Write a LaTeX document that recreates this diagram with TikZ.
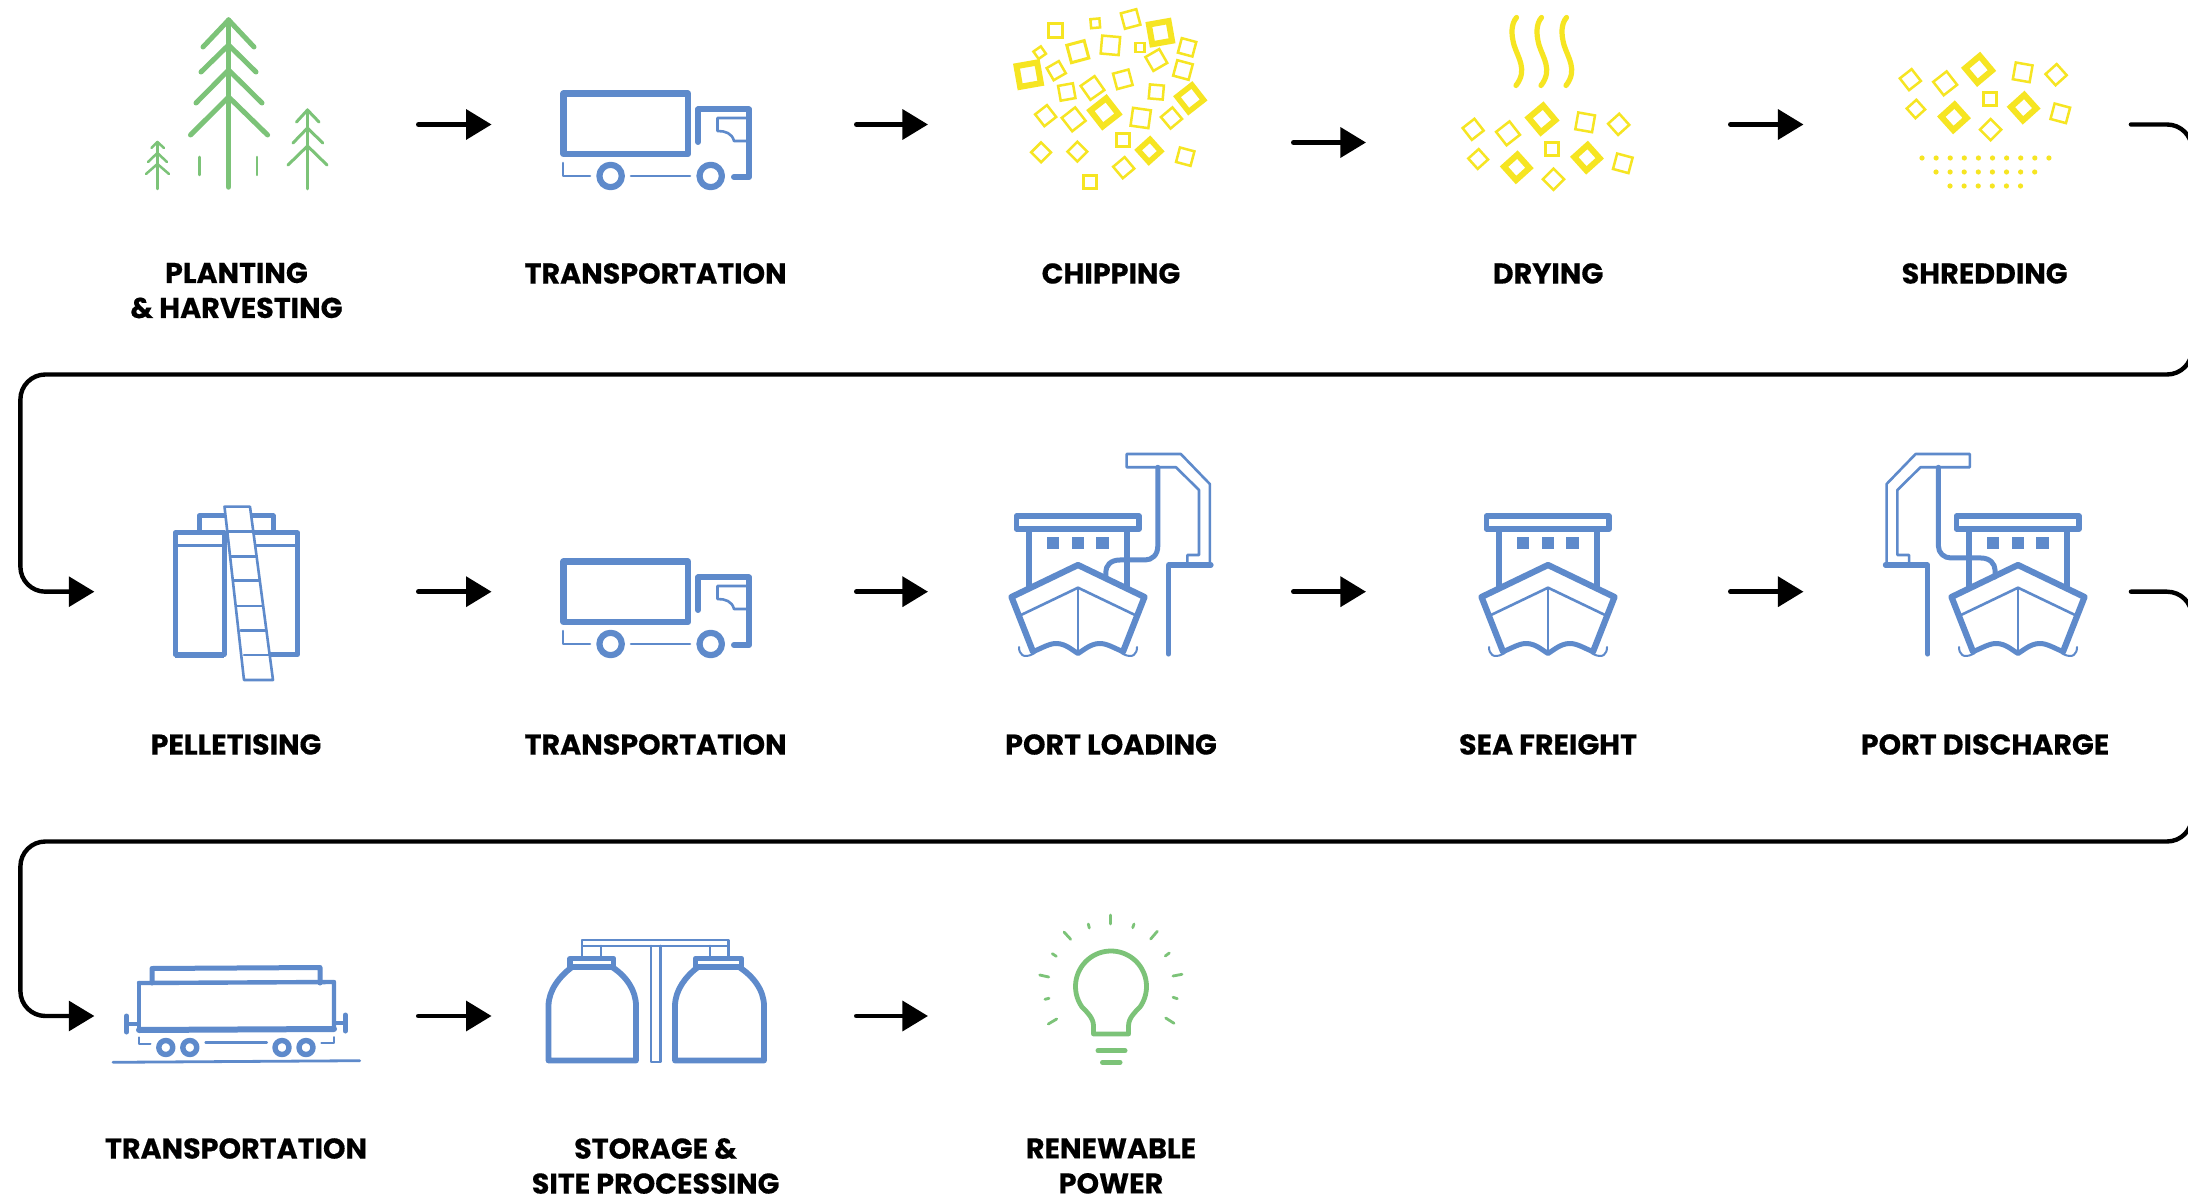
\documentclass[tikz,border=0pt]{standalone}
\usepackage{fontspec}
\setmainfont{Poppins}[BoldFeatures={FakeBold=0.35}]
\usetikzlibrary{arrows.meta,calc}
\definecolor{icblue}{HTML}{5E8ACB}
\definecolor{icgreen}{HTML}{7CC378}
\definecolor{icyellow}{HTML}{F6E522}
\tikzset{
  slot/.style={inner sep=0pt,outer sep=0pt,minimum height=1pt},
  flow/.style={line width=2.4pt,line cap=round,shorten <=1.2pt,-{Triangle[length=12.8pt,width=14.8pt]}},
  loopflow/.style={line width=2.2pt,line cap=round,shorten <=1.2pt,rounded corners=12.5pt,-{Triangle[length=12.8pt,width=14.8pt]}},
  lab/.style={inner sep=0pt,outer sep=0pt,align=center,font=\fontsize{14.3}{17.5}\selectfont\bfseries},
  bl/.style={draw=icblue,line width=#1,line join=round,line cap=round},
  bl/.default=2.25pt,
  gr/.style={draw=icgreen,line width=#1,line join=round,line cap=round},
  gr/.default=1.5pt,
  ye/.style={draw=icyellow,line width=#1},
  ye/.default=1.25pt
}
\newcommand{\chipat}[5]{%
  \pgfmathsetmacro\chx{\chox+#1/\chsx}\pgfmathsetmacro\chy{#2/3}%
  \draw[ye=#5*0.5pt,rotate around={#4:(\chx,\chy)}] (\chx-#3,\chy-#3) rectangle (\chx+#3,\chy+#3);}
\newcommand{\truckicon}{%
  \draw[bl=3.1pt] (563.5,93.5) rectangle (688,154);
  \draw[bl=3pt] (698,142) -- (698,109.5) -- (749,109.5) -- (749,177) -- (734,177);
  \draw[bl=1.3pt] (746.5,118) -- (717.5,118) -- (717.5,131) .. controls (725,131) and (732,133) .. (734,141) -- (748,141);
  \draw[bl=3.1pt] (610.6,176) circle (11.2);
  \draw[bl=3.1pt] (710.7,176) circle (11.2);
  \draw[bl=1.3pt] (631,176) -- (690,176);
  \draw[bl=1.3pt] (563,163) -- (563,176) -- (590,176);
}
\newcommand{\shipicon}{%
  \draw[bl=2.8pt] (1016.5,516) rectangle (1139,529);
  \draw[bl=2.8pt,line cap=butt] (1029,531) -- (1029,588);
  \draw[bl=2.8pt,line cap=butt] (1127,531) -- (1127,588);
  \fill[icblue] (1047,536.7) rectangle (1059.4,549);
  \fill[icblue] (1072,536.7) rectangle (1084,549);
  \fill[icblue] (1096,536.7) rectangle (1109,549);
  \draw[bl=3.1pt] (1033,651.7) -- (1011.5,597) -- (1078,565) -- (1144.5,597) -- (1123,651.7);
  \draw[bl=2.5pt] (1033,651.7) .. controls (1042,648) and (1050,643) .. (1057,643.5) .. controls (1066,644) and (1072,650) .. (1078,653.5) .. controls (1084,650) and (1090,644) .. (1099,643.5) .. controls (1106,643) and (1114,648) .. (1123,651.7);
  \draw[bl=1.3pt] (1021,615) -- (1078,587.7) -- (1135,615);
  \draw[bl=1.3pt] (1078,587.7) -- (1078,654);
  \draw[bl=1pt] (1019,647) .. controls (1019,654) and (1023,659) .. (1033,654);
  \draw[bl=1pt] (1137,647) .. controls (1137,654) and (1133,659) .. (1123,654);
}
\begin{document}
\begin{tikzpicture}[x=0.5pt,y=-0.5pt]
\useasboundingbox (0,0) rectangle (2188,1202);
\fill[white] (0,0) rectangle (2188,1202);
\clip (0,0) rectangle (2188,1202);

% slots that the connectors run between
\node[slot,minimum width=160.8pt] (plant) at (255.2,124.5) {};
\node[slot,minimum width=181.2pt] (truckA) at (672.8,124.5) {};
\node[slot,minimum width=181.5pt] (chip) at (1109.5,142.5) {};
\node[slot,minimum width=181pt] (dry) at (1547,124.5) {};
\node[slot,minimum width=162.5pt] (shred) at (1966,124.5) {};
\node[slot,minimum width=160.8pt] (pellet) at (255.2,591.7) {};
\node[slot,minimum width=181.2pt] (truckB) at (672.8,591.7) {};
\node[slot,minimum width=181.5pt] (load) at (1109.5,591.7) {};
\node[slot,minimum width=181pt] (sea) at (1547,591.7) {};
\node[slot,minimum width=162.5pt] (disch) at (1966,591.7) {};
\node[slot,minimum width=160.8pt] (train) at (255.2,1016) {};
\node[slot,minimum width=181.2pt] (store) at (672.8,1016) {};
\node[slot,minimum width=181.5pt] (bulb) at (1109.5,1016) {};
\coordinate (ra) at (2192,124.5);
\coordinate (rb) at (2192,374.5);
\coordinate (rc) at (20.4,374.5);
\coordinate (rd) at (20.4,591.7);
\coordinate (sa) at (2192,591.7);
\coordinate (sb) at (2192,841.5);
\coordinate (sc) at (20.4,841.5);
\coordinate (sd) at (20.4,1016);

% connectors
\draw[flow] (plant.east) -- (truckA.west);
\draw[flow] (truckA.east) -- (truckA.east -| chip.west);
\draw[flow] (chip.east) -- (chip.east -| dry.west);
\draw[flow] (dry.east) -- (shred.west);
\draw[loopflow] (shred.east) -- (ra) -- (rb) -- (rc) -- (rd) -- (pellet.west);
\draw[flow] (pellet.east) -- (truckB.west);
\draw[flow] (truckB.east) -- (load.west);
\draw[flow] (load.east) -- (sea.west);
\draw[flow] (sea.east) -- (disch.west);
\draw[loopflow] (disch.east) -- (sa) -- (sb) -- (sc) -- (sd) -- (train.west);
\draw[flow] (train.east) -- (store.west);
\draw[flow] (store.east) -- (bulb.west);

% labels
\node[lab] (l1) at (236.4,290.5) {PLANTING\\\& HARVESTING};
\node[lab] (l2) at (655.6,273.5) {TRANSPORTATION};
\node[lab] (l3) at (1111,273.5) {CHIPPING};
\node[lab] (l4) at (1548,273.5) {DRYING};
\node[lab] (l5) at (1984.6,273.5) {SHREDDING};
\node[lab] (l6) at (236,744.5) {PELLETISING};
\node[lab] (l7) at (655.6,744.5) {TRANSPORTATION};
\node[lab] (l8) at (1111,744.5) {PORT LOADING};
\node[lab] (l9) at (1548,744.5) {SEA FREIGHT};
\node[lab] (l10) at (1985,744.5) {PORT DISCHARGE};
\node[lab] (l11) at (236,1148.5) {TRANSPORTATION};
\node[lab] (l12) at (655.6,1166) {STORAGE \&\\SITE PROCESSING};
\node[lab] (l13) at (1111,1166) {RENEWABLE\\POWER};

% trees
\draw[gr=2.75pt] (228.6,20) -- (228.6,187);
\draw[gr=2.5pt] (203,47) -- (228.6,20) -- (254,47);
\draw[gr=2.5pt] (201,72) -- (228.6,45) -- (256,72);
\draw[gr=2.5pt] (196,103) -- (228.6,70) -- (262,103);
\draw[gr=2.5pt] (190.5,135) -- (228.6,97) -- (267.6,135);
\draw[gr=1.25pt] (199.6,157) -- (199.6,175);
\draw[gr=1.25pt] (257,157) -- (257,175);
\draw[gr=1.5pt] (307.5,110) -- (307.5,189);
\draw[gr=1.5pt] (296.5,122) -- (307.5,110) -- (319,122);
\draw[gr=1.5pt] (293,143) -- (307.5,128) -- (322.7,143);
\draw[gr=1.5pt] (288,165) -- (307.5,146) -- (327,165);
\draw[gr=1.25pt] (157.4,142) -- (157.4,189);
\draw[gr=1.25pt] (151.4,148) -- (157.4,142) -- (164,148);
\draw[gr=1.25pt] (148,162) -- (157.4,153) -- (167,162);
\draw[gr=1.25pt] (146,174) -- (157.4,164) -- (169,174);

% trucks
\truckicon
\begin{scope}[shift={(0,468)}]\truckicon\end{scope}

% chips
\def\chox{980}\def\chsx{2.178}
\chipat{165}{92}{7}{0}{3}
\chipat{251}{70}{4.5}{5}{2.5}
\chipat{328}{57}{8}{15}{2.5}
\chipat{393}{98}{10}{10}{6}
\chipat{451}{142}{7.5}{-15}{2.5}
\chipat{348}{143}{4.5}{0}{2.5}
\chipat{284}{136}{9}{-5}{2.5}
\chipat{213}{155}{9}{15}{3}
\chipat{130}{158}{4.5}{35}{2.5}
\chipat{106}{224}{10.5}{10}{6}
\chipat{166}{212}{7}{30}{2.5}
\chipat{384}{180}{8}{30}{2.5}
\chipat{442}{210}{8}{-15}{2.5}
\chipat{311}{238}{8}{15}{2.5}
\chipat{245}{264}{8.5}{35}{2.5}
\chipat{189}{276}{7.5}{10}{2.5}
\chipat{384}{276}{7}{-5}{2.5}
\chipat{458}{295}{9.5}{38}{5.5}
\chipat{143}{347}{7.5}{38}{2.5}
\chipat{204}{358}{8.5}{38}{2.5}
\chipat{271}{337}{10}{38}{6}
\chipat{350}{354}{9}{-8}{2.5}
\chipat{417}{354}{7.5}{40}{2.5}
\chipat{311}{419}{6.5}{0}{3}
\chipat{133}{457}{7}{45}{2.5}
\chipat{212}{455}{7}{45}{2.5}
\chipat{369}{452}{8}{42}{5.5}
\chipat{447}{470}{7.5}{-15}{2.5}
\chipat{313}{503}{7.5}{40}{2.5}
\chipat{240}{546}{6.5}{0}{3}

% drying
\foreach \dx in {0,25,50}{
  \draw[icyellow,line width=2.6pt,line cap=round,shift={(\dx,0)}] (1516.5,17.5) .. controls (1511,24) and (1511,34) .. (1514,45) .. controls (1518,58) and (1528,70) .. (1516,85.5);
}
\chipat{1074}{388}{7.5}{38}{2.5}
\chipat{1150}{400}{8.5}{38}{2.5}
\chipat{1224}{357}{9.5}{40}{6}
\chipat{1318}{367}{8.5}{-10}{2.5}
\chipat{1391}{373}{7.5}{42}{2.5}
\chipat{1246}{446}{6.5}{0}{3}
\chipat{1085}{477}{7}{42}{2.5}
\chipat{1169}{502}{9}{42}{6}
\chipat{1322}{473}{9}{42}{6}
\chipat{1400}{490}{8}{-15}{2.5}
\chipat{1249}{538}{7.5}{45}{2.5}

% shredding
\def\chox{1460}\def\chsx{2.154}
\chipat{970}{239}{7.5}{38}{2.5}
\chipat{1045}{250}{8.5}{38}{2.5}
\chipat{1117}{208}{9.5}{40}{6}
\chipat{1212}{217}{8.5}{-10}{2.5}
\chipat{1284}{224}{7.5}{42}{2.5}
\chipat{1141}{298}{6.5}{0}{3}
\chipat{982}{327}{6.5}{42}{2.5}
\chipat{1064}{352}{9}{42}{6}
\chipat{1214}{323}{9}{42}{6}
\chipat{1293}{340}{8}{-15}{2.5}
\chipat{1143}{389}{7.5}{45}{2.5}
\foreach \i in {0,...,9}{\fill[icyellow] ({1922+14.1*\i},158) circle (2.6);}
\foreach \i in {0,...,7}{\fill[icyellow] ({1936+14.1*\i},172) circle (2.6);}
\foreach \i in {0,...,5}{\fill[icyellow] ({1950+14.1*\i},186) circle (2.6);}

% pelletising
\draw[bl=2.5pt] (199,530) -- (199,516) -- (273,516) -- (273,530);
\draw[bl=2.5pt] (175,533) rectangle (224,654.5);
\draw[bl=3pt,line cap=butt] (175,654.5) -- (224,654.5);
\draw[bl=1.3pt] (175,545.5) -- (224,545.5);
\draw[bl=2.5pt] (250,533) -- (297.5,533) -- (297.5,654.5) -- (262,654.5);
\draw[bl=1.3pt] (250,545.5) -- (297.5,545.5);
\draw[bl=1.3pt,fill=white] (224.5,506.7) -- (250,506.7) -- (273,680) -- (244,680) -- cycle;
\foreach \yy/\xa/\xb in {531.7/227.8/253.3,556.7/231/256.6,580.7/234/259.8,606/237.5/263,630.7/240.7/266.3,655/244/269.5}{
  \draw[bl=1.3pt] (\xa,\yy) -- (\xb,\yy);}

% ships
\begin{scope}\shipicon\end{scope}
\begin{scope}[shift={(470,0)}]\shipicon\end{scope}
\begin{scope}[shift={(940,0)}]\shipicon\end{scope}

% loading crane
\draw[bl=1.3pt] (1187.3,563) -- (1187.3,555) -- (1199,555) -- (1199,490) -- (1176,467.3) -- (1126.6,467.3) -- (1126.6,454) -- (1180.8,454) -- (1209.8,484) -- (1209.8,563);
\draw[bl=2.6pt] (1211,565) -- (1168.6,565) -- (1168.6,654);
\draw[bl=2.5pt] (1157.8,467.3) -- (1157.8,546) .. controls (1157.8,555) and (1152,560) .. (1145,560) -- (1120,560) .. controls (1110,560) and (1105.8,566) .. (1105.8,572) -- (1105.8,577);

% discharge crane
\draw[bl=1.3pt] (1909.1,563) -- (1909.1,555) -- (1897.4,555) -- (1897.4,490) -- (1920.4,467.3) -- (1969.8,467.3) -- (1969.8,454) -- (1915.6,454) -- (1886.6,484) -- (1886.6,563);
\draw[bl=2.6pt] (1885.4,565) -- (1927.8,565) -- (1927.8,654);
\draw[bl=2.5pt] (1938.4,467.3) -- (1938.4,546) .. controls (1938.4,553) and (1944,558) .. (1951,558) -- (1981,558) .. controls (1990,558) and (1995,564) .. (1995,570) -- (1995,577);

% train
\draw[bl=2.5pt] (152,983) -- (152,968.5) -- (320,967.5) -- (320,983);
\draw[bl=2.2pt] (139,983) -- (334,982) -- (334,1029);
\draw[bl=2.2pt] (139,983) -- (139,1030);
\draw[bl=3pt] (139,1030) -- (334,1029);
\draw[bl=2.5pt] (126.5,1016) -- (126.5,1032);
\draw[bl=2.5pt] (345.4,1015) -- (345.4,1031);
\draw[bl=1.75pt] (126.5,1024) -- (139,1024);
\draw[bl=1.75pt] (334,1023) -- (345.4,1023);
\draw[bl=1pt] (138.8,1037.3) -- (138.8,1044) -- (150.5,1044);
\draw[bl=1pt] (334,1037) -- (334,1043.3) -- (321.4,1043.3);
\draw[bl=1.3pt] (205.6,1042.7) -- (266.8,1042.7);
\foreach \wx in {165.8,189.8,282,306}{\draw[bl=2.7pt] (\wx,1047.5) circle (7);}
\draw[bl=1.4pt] (113,1062.3) -- (359.7,1060.7);

% storage
\draw[bl=1.3pt] (582,940) rectangle (728.6,946);
\draw[bl=1.3pt] (582,946) -- (582,957);
\draw[bl=1.3pt] (601,946) -- (601,957);
\draw[bl=1.3pt] (710,946) -- (710,957);
\draw[bl=1.3pt] (728.6,946) -- (728.6,957);
\draw[bl=1.3pt] (651,946) -- (651,1062) -- (660.5,1062) -- (660.5,946);
\draw[bl=2.7pt] (570,958.5) rectangle (613.5,967);
\draw[bl=2.7pt] (695.5,958.5) rectangle (741.5,967);
\draw[bl=2.9pt] (548.5,1060.5) -- (548.5,1006) .. controls (548.5,990) and (560,976) .. (572,967) -- (612,967) .. controls (626,976) and (636,990) .. (636,1006) -- (636,1060.5) -- cycle;
\draw[bl=2.9pt] (675,1060.5) -- (675,1006) .. controls (675,990) and (686,976) .. (698,967) -- (739,967) .. controls (753,976) and (764,990) .. (764,1006) -- (764,1060.5) -- cycle;

% bulb
\draw[gr=2.4pt] (1093.5,1034) -- (1093.5,1026) .. controls (1093.5,1018) and (1087,1012) .. (1082,1007) -- plot[domain=145:395,samples=60] ({1111+35.5*cos(\x)},{986.5+35.5*sin(\x)}) .. controls (1135,1012) and (1128.5,1018) .. (1128.5,1026) -- (1128.5,1034) -- cycle;
\draw[gr=2.5pt] (1098,1050.7) -- (1125,1050.7);
\draw[gr=2.5pt] (1102.5,1062.3) -- (1120,1062.3);
\foreach \pa/\pb in {{1110.3,915}/{1110.3,924},{1088.3,924}/{1089.3,928},{1132.7,927.7}/{1134,924},{1064,932}/{1070.7,939.3},{1150.7,939}/{1157.3,931.3},{1052.3,953.7}/{1056.3,956.3},{1165.3,956}/{1169.3,953},{1039.7,975}/{1048.7,977},{1173,976}/{1182,974.3},{1045,999.3}/{1049,998.3},{1173,997.3}/{1177.3,998.7},{1048.3,1024}/{1056.7,1019},{1165.7,1018}/{1174,1023.3}}{
  \draw[gr=1.4pt] (\pa) -- (\pb);}
\end{tikzpicture}
\end{document}
